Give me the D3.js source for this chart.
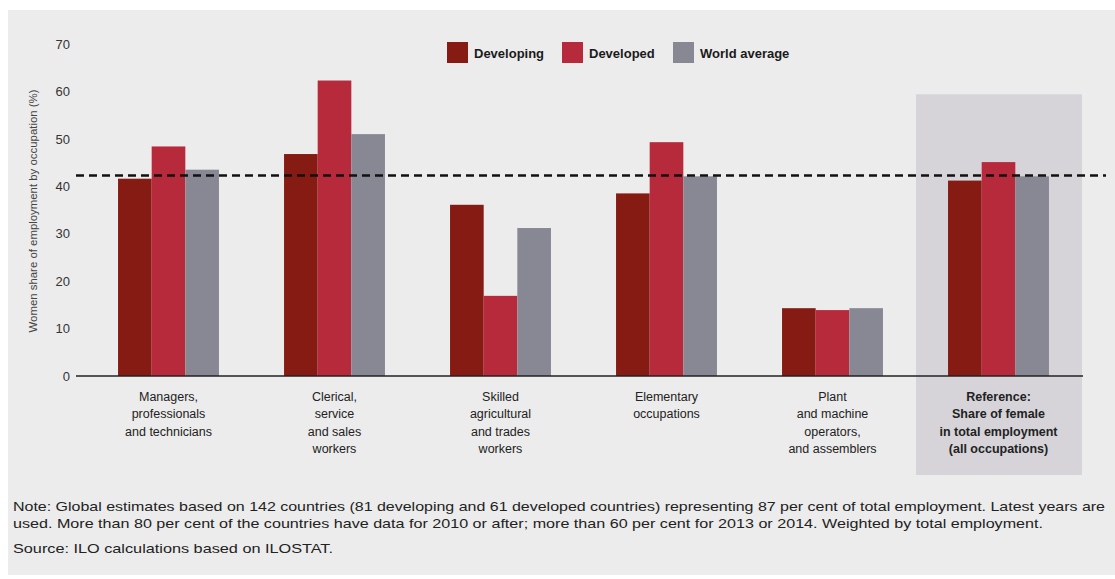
<!DOCTYPE html>
<html><head><meta charset="utf-8">
<script src="https://cdn.jsdelivr.net/npm/d3@7"></script>
<style>body{margin:0;background:#fff}svg{display:block}</style>
</head><body><svg id="c" width="1115" height="579"></svg>
<script>
const categories = ["Managers, professionals and technicians","Clerical, service and sales workers","Skilled agricultural and trades workers","Elementary occupations","Plant and machine operators, and assemblers","Reference: Share of female in total employment (all occupations)"];
const categoryLines = [
  ["Managers,","professionals","and technicians"],
  ["Clerical,","service","and sales","workers"],
  ["Skilled","agricultural","and trades","workers"],
  ["Elementary","occupations"],
  ["Plant","and machine","operators,","and assemblers"],
  ["Reference:","Share of female","in total employment","(all occupations)"]
];
const seriesNames = ["Developing","Developed","World average"];
const developing = [41.6, 46.8, 36.1, 38.5, 14.3, 41.2];
const developed = [48.4, 62.3, 16.9, 49.3, 13.9, 45.1];
const worldAverage = [43.5, 51.0, 31.2, 42.1, 14.3, 42.1];
const referenceLine = 42.3;
const yTicks = [0,10,20,30,40,50,60,70];
const colors = ["#861b14","#b72a3c","#878893"];
const noteLines = [
  "Note: Global estimates based on 142 countries (81 developing and 61 developed countries) representing 87 per cent of total employment. Latest years are",
  "used. More than 80 per cent of the countries have data for 2010 or after; more than 60 per cent for 2013 or 2014. Weighted by total employment.",
  "Source: ILO calculations based on ILOSTAT."
];

const svg = d3.select("#c");
const font = "'Liberation Sans', Arial, sans-serif";
svg.append("rect").attr("x",8).attr("y",10).attr("width",1107).attr("height",565).attr("fill","#ececec");

const y = d3.scaleLinear().domain([0,70]).range([376,44]);
const x = d3.scaleBand().domain(categories).range([85.5,1081.5]).paddingInner(0.392).paddingOuter(0.196);
const xs = d3.scaleBand().domain(seriesNames).range([0,x.bandwidth()]);

// reference shaded box
const refCat = categories[5];
const step = x.step();
const refCenter = x(refCat) + x.bandwidth()/2;
svg.append("rect").attr("x", refCenter - step/2 + 0.5).attr("y", y(59.4)).attr("width", step).attr("height", 475 - y(59.4)).attr("fill","#d6d4d9");

// y axis
const yAxis = svg.append("g").attr("transform","translate(76,0)")
  .call(d3.axisLeft(y).tickValues(yTicks).tickSize(0).tickPadding(6));
yAxis.select(".domain").remove();
yAxis.selectAll("text").attr("font-family",font).attr("font-size",13).attr("fill","#333");

svg.append("text").attr("transform","translate(37,211) rotate(-90)").attr("text-anchor","middle")
  .attr("font-family",font).attr("font-size",10.5).attr("fill","#444")
  .attr("textLength",243).attr("lengthAdjust","spacingAndGlyphs")
  .text("Women share of employment by occupation (%)");

// bars
const data = seriesNames.map((s,i)=>({name:s, values:[developing,developed,worldAverage][i], color:colors[i]}));
const g = svg.append("g");
data.forEach(s=>{
  g.selectAll(null).data(categories).enter().append("rect")
    .attr("x", c=>x(c)+xs(s.name))
    .attr("width", xs.bandwidth())
    .attr("y", (c,i)=>y(s.values[i]))
    .attr("height", (c,i)=>y(0)-y(s.values[i]))
    .attr("fill", s.color);
});

// x axis baseline
const xAxis = svg.append("g").attr("transform","translate(0,376)")
  .call(d3.axisBottom(x).tickSize(0).tickFormat(""));
xAxis.select(".domain").attr("d","M76,0H1083").attr("stroke","#222").attr("stroke-width",1.5);

// category labels
categories.forEach((c,i)=>{
  const t = svg.append("text").attr("text-anchor","middle").attr("font-family",font)
    .attr("font-size",12.5).attr("fill","#222").attr("font-weight", i===5?"bold":"normal");
  categoryLines[i].forEach((l,j)=>{
    t.append("tspan").attr("x", x(c)+x.bandwidth()/2).attr("y", 401 + j*17.3).text(l);
  });
});

// reference dashed line
svg.append("line").attr("x1",76).attr("x2",1106).attr("y1",y(referenceLine)).attr("y2",y(referenceLine))
  .attr("stroke","#111").attr("stroke-width",2.5).attr("stroke-dasharray","8,5");

// legend
const lx = [447,562,673];
seriesNames.forEach((s,i)=>{
  svg.append("rect").attr("x",lx[i]).attr("y",42).attr("width",21).attr("height",21).attr("fill",colors[i]);
  svg.append("text").attr("x",lx[i]+27).attr("y",57.5).attr("font-family",font).attr("font-size",13)
    .attr("font-weight","bold").attr("fill","#1a1a1a").text(s);
});

// notes
const noteY = [511,528,553];
const noteW = [1092, 1030, 320];
noteLines.forEach((l,i)=>{
  svg.append("text").attr("x",13).attr("y",noteY[i]).attr("font-family",font).attr("font-size",13).attr("fill","#222")
    .attr("textLength",noteW[i]).attr("lengthAdjust","spacingAndGlyphs").text(l);
});
</script>
</body></html>
